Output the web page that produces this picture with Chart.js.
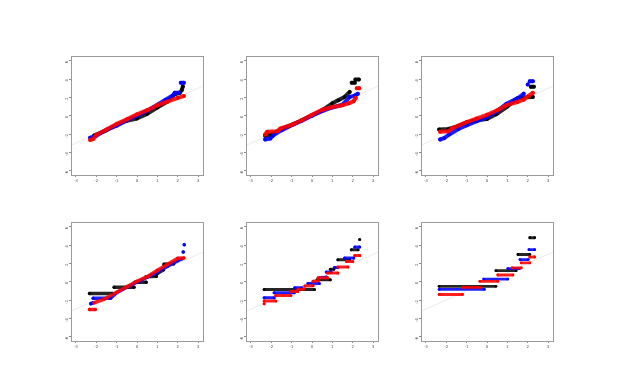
<!DOCTYPE html>
<html>
<head>
<meta charset="utf-8">
<script src="https://cdn.jsdelivr.net/npm/chart.js"></script>
<style>
  body { margin: 0; background: #fff; width: 624px; height: 373px; overflow: hidden; position: relative; }
  canvas { position: absolute; }
</style>
</head>
<body>
<script>
// tick values shared by all six panels
const xTicks = [-3, -2, -1, 0, 1, 2, 3];
const yTicks = [-6, -4, -2, 0, 2, 4, 6];
const refLine = [[-4, -4], [4, 4]];

// [theoretical quantile, sample quantile]; null = break between tied runs
const p1Black = [[-2.1,-2.15],[-1.5,-1.6],[-1.0,-1.0],[-0.5,-0.55],[0,-0.3],[0.5,0.2],[1.0,0.9],[1.5,1.55],[1.85,2.35],[2.1,2.5],[2.2,2.8],[2.25,3.2]];
const p1Blue  = [[-2.3,-2.4],[-2.0,-2.2],[-1.5,-1.55],[-1.0,-1.1],[-0.5,-0.5],[0,0.0],[0.5,0.55],[1.0,1.2],[1.4,1.75],[1.75,2.2],[1.85,2.5],[2.05,2.5],null,[2.15,3.6],[2.3,3.6]];
const p1Red   = [[-2.3,-2.65],[-2.15,-2.55],[-2.0,-2.1],[-1.5,-1.5],[-1.0,-0.9],[-0.5,-0.4],[0,0.15],[0.5,0.6],[1.0,1.15],[1.5,1.55],[2.0,1.95],[2.3,2.15]];

const p2Black = [[-2.3,-2.2],[-2.0,-2.05],[-1.5,-1.45],[-1.0,-1.0],[-0.5,-0.5],[0,0.05],[0.5,0.6],[1.0,1.35],[1.3,1.7],[1.6,2.05],[1.85,2.6],null,[1.95,3.6],[2.1,3.6],null,[2.13,3.95],[2.3,3.95]];
const p2Blue  = [[-2.3,-2.6],[-2.05,-2.5],[-1.9,-2.15],[-1.5,-1.6],[-1.0,-1.05],[-0.5,-0.55],[0,0.0],[0.5,0.5],[1.0,0.9],[1.5,1.2],[1.85,2.05],[2.1,2.2],[2.25,2.4]];
const p2Red   = [[-2.3,-2.05],[-2.2,-1.75],[-1.7,-1.7],[-1.55,-1.4],[-1.0,-1.0],[-0.5,-0.5],[0,0.1],[0.5,0.65],[1.0,0.95],[1.5,1.15],[1.8,1.35],[2.05,1.6],[2.15,1.95],null,[2.2,3.0],[2.32,3.0]];

const p3Black = [[-2.35,-1.5],[-1.9,-1.45],[-1.5,-1.2],[-1.0,-0.75],[-0.5,-0.5],[0,-0.35],[0.45,0.15],[1.0,1.0],[1.45,1.85],[1.7,2.0],[2.25,2.05],null,[2.15,3.15],[2.3,3.15]];
const p3Blue  = [[-2.3,-2.6],[-2.1,-2.45],[-1.85,-2.05],[-1.4,-1.45],[-1.0,-1.05],[-0.5,-0.6],[0,-0.15],[0.5,0.5],[0.95,1.3],[1.5,1.9],[1.8,2.4],null,[2.0,3.4],null,[2.1,3.77],[2.25,3.77]];
const p3Red   = [[-2.3,-1.75],[-1.9,-1.7],[-1.7,-1.35],[-1.0,-0.7],[-0.5,-0.3],[0,0.1],[0.5,0.6],[0.95,1.15],[1.5,1.5],[1.8,1.75],[2.0,2.1],[2.25,2.5]];

const p4Black = [[-2.33,-1.3],[-1.2,-1.3],null,[-1.12,-0.62],[-0.15,-0.62],null,[-0.1,-0.05],[0.45,-0.05],null,[0.45,0.55],[0.95,0.6],null,[1.0,0.9],[1.3,1.3],null,[1.33,1.9],[1.8,1.95]];
const p4Blue  = [[-2.27,-2.4],[-2.15,-2.3],null,[-2.15,-1.8],[-1.3,-1.8],[-1.0,-1.2],[-0.5,-0.6],[0,-0.05],[0.5,0.5],[1.0,1.05],[1.5,1.7],[2.0,2.3],[2.2,2.5],null,[2.27,3.25],null,[2.32,4.05]];
const p4Red   = [[-2.33,-3.05],[-2.05,-3.05],null,[-2.1,-2.3],[-1.6,-1.9],[-1.0,-1.15],[-0.5,-0.55],[0,0.05],[0.5,0.55],[1.0,1.25],[1.5,1.9],[2.0,2.55],[2.3,2.6]];

const p5Black = [[-2.35,-0.84],[0.12,-0.84],null,[0.25,0.22],[0.9,0.22],null,[0.9,1.35],[1.07,1.35],null,[1.27,2.4],[1.85,2.4],null,[1.93,3.5],[2.26,3.5],null,[2.34,4.6]];
const p5Blue  = [[-2.35,-1.76],[-1.86,-1.76],null,[-1.86,-1.2],[-0.87,-1.2],null,[-0.85,-0.66],[-0.5,-0.66],null,[-0.2,-0.2],[0.36,-0.2],null,[0.4,0.45],[0.7,0.5],null,[0.7,1.06],[0.94,1.06],null,[1.1,1.54],[1.27,1.54],null,[1.6,2.6],[2.05,2.6],null,[2.1,3.8],[2.34,3.8]];
const p5Red   = [[-2.35,-2.4],null,[-2.35,-2.12],[-1.78,-2.12],null,[-1.78,-1.5],[-1.04,-1.5],null,[-1.04,-1.06],[-0.7,-1.06],null,[-0.7,-0.85],[-0.4,-0.8],null,[-0.35,-0.48],[0.05,-0.45],null,[0.05,0.05],[0.3,0.1],null,[0.3,0.44],[0.77,0.44],null,[0.77,0.95],[1.27,0.95],null,[1.27,1.6],[1.76,1.6],null,[1.7,2.2],[2.0,2.2],null,[2.1,2.86],[2.34,2.86]];

const p6Black = [[-2.35,-0.51],[0.44,-0.51],null,[0.44,1.2],[1.43,1.2],null,[1.52,2.97],[2.1,2.97],null,[2.1,4.8],[2.34,4.8]];
const p6Blue  = [[-2.35,-0.84],[-0.13,-0.84],null,[-0.16,0.29],[1.02,0.29],null,[1.02,1.43],[1.6,1.43],null,[1.62,2.42],[2.02,2.42],null,[2.06,3.5],[2.34,3.5]];
const p6Red   = [[-2.35,-1.4],[-1.2,-1.4],null,[-1.2,-0.62],[-0.3,-0.62],null,[-0.35,0.04],[0.53,0.04],null,[0.53,0.73],[1.27,0.73],null,[1.23,1.5],[1.68,1.5],null,[1.68,2.05],[2.1,2.05],null,[2.1,2.7],[2.34,2.7]];

const panels = [
    { left: 71,  top: 55,  width: 4,   black: p1Black, blue: p1Blue, red: p1Red },
    { left: 246, top: 55,  width: 4,   black: p2Black, blue: p2Blue, red: p2Red },
    { left: 421, top: 55,  width: 4,   black: p3Black, blue: p3Blue, red: p3Red },
    { left: 71,  top: 221, width: 3.5, black: p4Black, blue: p4Blue, red: p4Red },
    { left: 246, top: 221, width: 3,   black: p5Black, blue: p5Blue, red: p5Red },
    { left: 421, top: 221, width: 2.8, black: p6Black, blue: p6Blue, red: p6Red }
];

const BOX_W = 132, BOX_H = 120, Y_AXIS_W = 14, X_AXIS_H = 12, PAD = 3;

// turn [x,y] pairs into points, null becomes a gap in the line
function toPoints(arr) {
    let lastX = 0;
    return arr.map(p => {
        if (!p) return { x: lastX, y: null };
        lastX = p[0];
        return { x: p[0], y: p[1] };
    });
}

function series(data, color, order, width) {
    return {
        data: toPoints(data),
        showLine: true,
        spanGaps: false,
        borderColor: color,
        backgroundColor: color,
        borderWidth: width,
        borderCapStyle: 'round',
        borderJoinStyle: 'round',
        pointRadius: width / 2,
        pointBorderWidth: 0,
        pointHoverRadius: 0,
        order: order
    };
}

// box round the plot region, like R's frame
const boxPlugin = {
    id: 'box',
    afterDraw(chart) {
        const { ctx, chartArea: a } = chart;
        ctx.save();
        ctx.strokeStyle = '#9a9a9a';
        ctx.lineWidth = 1;
        ctx.strokeRect(Math.round(a.left) + 0.5, Math.round(a.top) + 0.5, Math.round(a.width), Math.round(a.height));
        ctx.restore();
    }
};

function axisTicks(values) {
    return scale => { scale.ticks = values.map(v => ({ value: v })); };
}

panels.forEach(p => {
    const canvas = document.createElement('canvas');
    canvas.width = Y_AXIS_W + BOX_W + PAD;
    canvas.height = PAD + BOX_H + X_AXIS_H;
    canvas.style.left = (p.left - Y_AXIS_W) + 'px';
    canvas.style.top = (p.top - PAD) + 'px';
    document.body.appendChild(canvas);

    new Chart(canvas.getContext('2d'), {
        type: 'scatter',
        data: {
            datasets: [
                {
                    data: toPoints(refLine),
                    showLine: true,
                    borderColor: '#e4e4e4',
                    borderWidth: 0.8,
                    pointRadius: 0,
                    order: 4
                },
                series(p.black, 'rgba(0,0,0,0.85)', 3, p.width),
                series(p.blue, 'rgba(0,0,255,0.88)', 2, p.width),
                series(p.red, 'rgba(255,0,0,0.88)', 1, p.width)
            ]
        },
        options: {
            responsive: false,
            animation: false,
            devicePixelRatio: 1,
            events: [],
            layout: { padding: { top: PAD, right: PAD, left: 0, bottom: 0 } },
            plugins: { legend: { display: false }, tooltip: { enabled: false } },
            scales: {
                x: {
                    type: 'linear',
                    min: -3.24,
                    max: 3.24,
                    afterBuildTicks: axisTicks(xTicks),
                    afterFit: scale => { scale.height = X_AXIS_H; },
                    border: { display: false },
                    grid: { drawOnChartArea: false, drawTicks: true, tickLength: 2, color: '#8a8a8a' },
                    ticks: { font: { size: 4, family: 'DejaVu Sans' }, color: '#555', padding: 2, maxRotation: 0 }
                },
                y: {
                    type: 'linear',
                    min: -6.48,
                    max: 6.48,
                    afterBuildTicks: axisTicks(yTicks),
                    afterFit: scale => { scale.width = Y_AXIS_W; },
                    border: { display: false },
                    grid: { drawOnChartArea: false, drawTicks: true, tickLength: 2, color: '#8a8a8a' },
                    ticks: { font: { size: 4, family: 'DejaVu Sans' }, color: '#555', padding: 2, minRotation: 90, maxRotation: 90 }
                }
            }
        },
        plugins: [boxPlugin]
    });
});
</script>
</body>
</html>
